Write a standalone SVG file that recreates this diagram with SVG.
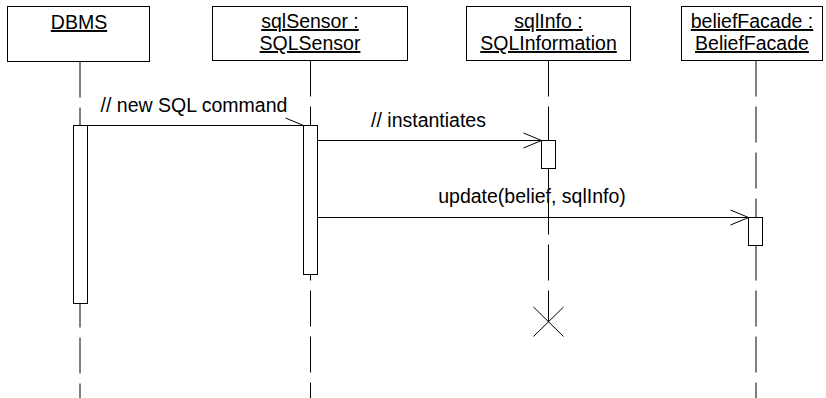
<svg xmlns="http://www.w3.org/2000/svg" width="826" height="398" viewBox="0 0 826 398">
<style>
.box{fill:#fff;stroke:#000;stroke-width:1}
.act{fill:#fff;stroke:#000;stroke-width:1}
.life{stroke:#000;stroke-width:1;stroke-dasharray:36 10;fill:none}
.msg{stroke:#000;stroke-width:1;fill:none}
text{font-family:"Liberation Sans",Arial,sans-serif;font-size:19.5px;fill:#000}
.hd{text-anchor:middle;text-decoration:underline}
.lbl{text-anchor:middle}
</style>
<defs>
<marker id="open" markerUnits="userSpaceOnUse" markerWidth="20" markerHeight="17" refX="18" refY="7.5" orient="auto" overflow="visible">
<path d="M0,0 L18,7.5 L0,15" fill="none" stroke="#000" stroke-width="1"/>
</marker>
<marker id="half" markerUnits="userSpaceOnUse" markerWidth="20" markerHeight="17" refX="18" refY="7.5" orient="auto" overflow="visible">
<path d="M0,0 L18,7.5" fill="none" stroke="#000" stroke-width="1"/>
</marker>
</defs>
<g id="lifelines">
<line class="life" x1="80" y1="61.5" x2="80" y2="398"/>
<line class="life" x1="310.5" y1="60.5" x2="310.5" y2="398"/>
<line class="life" x1="548.5" y1="60.5" x2="548.5" y2="321.7"/>
<line class="life" x1="756" y1="60.5" x2="756" y2="398"/>
</g>
<g id="dbms">
<rect class="box" x="7.5" y="6.5" width="142" height="55"/>
<text class="hd" x="79" y="29">DBMS</text>
<rect class="act" x="73.5" y="125.5" width="14" height="178"/>
</g>
<g id="sqlSensor">
<rect class="box" x="212.5" y="6.5" width="195" height="54"/>
<text class="hd" x="310" y="28">sqlSensor :</text>
<text class="hd" x="310" y="50">SQLSensor</text>
<rect class="act" x="303.5" y="125.5" width="14" height="149"/>
</g>
<g id="sqlInfo">
<rect class="box" x="466.5" y="6.5" width="164" height="54"/>
<text class="hd" x="548.5" y="28">sqlInfo :</text>
<text class="hd" x="548.5" y="50">SQLInformation</text>
<rect class="act" x="541.5" y="140.5" width="14" height="28"/>
<g id="destroy">
<line class="msg" x1="533.5" y1="307" x2="563.5" y2="336.5"/>
<line class="msg" x1="563.5" y1="307" x2="533.5" y2="336.5"/>
</g>
</g>
<g id="beliefFacade">
<rect class="box" x="681.5" y="6.5" width="141" height="54"/>
<text class="hd" x="752" y="28">beliefFacade :</text>
<text class="hd" x="752" y="50">BeliefFacade</text>
<rect class="act" x="748.5" y="217.5" width="14" height="28"/>
</g>
<g id="connectors">
<line class="msg" x1="87.5" y1="125.5" x2="303.5" y2="125.5" marker-end="url(#half)"/>
<text class="lbl" x="194" y="112">// new SQL command</text>
<line class="msg" x1="317.5" y1="140.5" x2="541.5" y2="140.5" marker-end="url(#open)"/>
<text class="lbl" x="428.5" y="127">// instantiates</text>
<line class="msg" x1="317.5" y1="217.5" x2="748.5" y2="217.5" marker-end="url(#open)"/>
<text class="lbl" x="532" y="203">update(belief, sqlInfo)</text>
</g>
</svg>
